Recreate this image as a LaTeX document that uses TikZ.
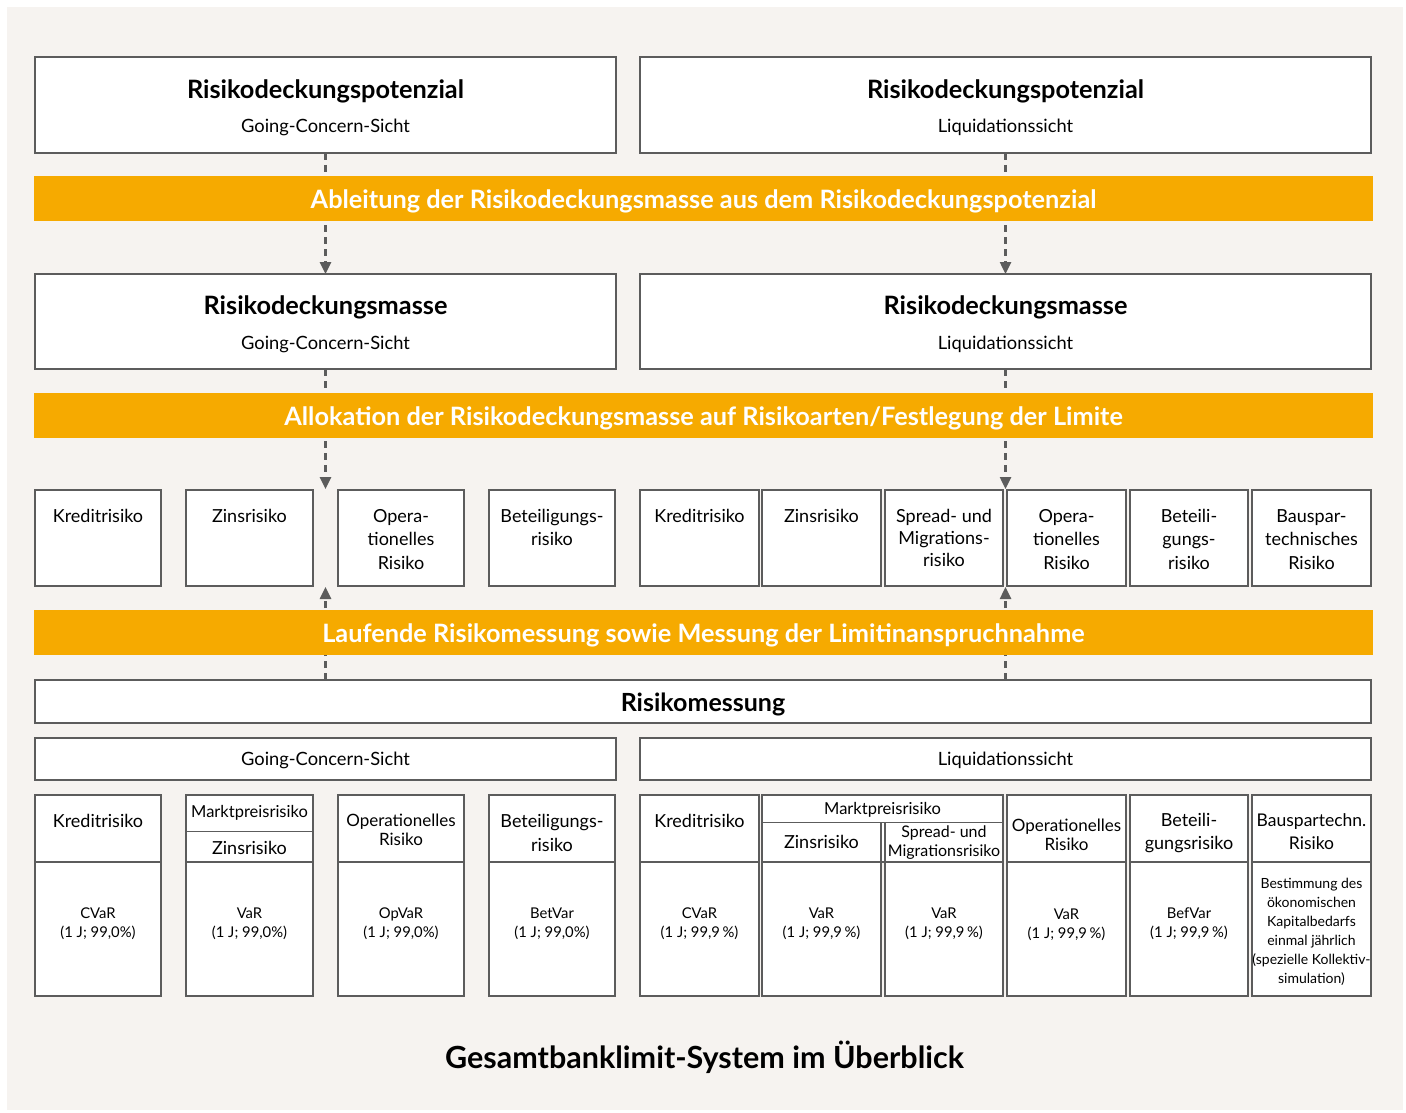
\documentclass[tikz,border=0pt]{standalone}
\usepackage{fontspec}
\setmainfont{Lato}
\usetikzlibrary{arrows.meta}
\definecolor{bg}{HTML}{F6F3F0}
\definecolor{bord}{HTML}{5C5C5C}
\definecolor{orng}{HTML}{F6AA00}
\newcommand\fBig{\fontsize{25.3}{30}\selectfont\bfseries}
\newcommand\fSub{\fontsize{18.3}{22}\selectfont}
\newcommand\fBar{\fontsize{25.3}{30}\selectfont\bfseries}
\newcommand\fMid{\fontsize{18}{23.5}\selectfont}
\newcommand\fMidT{\fontsize{18}{19}\selectfont}
\newcommand\fOp{\fontsize{17}{19}\selectfont}
\newcommand\fSm{\fontsize{14.8}{19}\selectfont}
\newcommand\fTitle{\fontsize{30.5}{36}\selectfont\bfseries}
\newcommand\mybox[6][]{%
  \pgfmathsetmacro\bw{#5-#3}\pgfmathsetmacro\bh{#6-#4}%
  \node[box,anchor=north west,minimum width=\bw pt,minimum height=\bh pt,#1] (#2) at (#3,#4) {};}
\begin{document}
\begin{tikzpicture}[x=1pt,y=-1pt,
  box/.style={draw=bord,line width=2.5pt,fill=white,inner sep=0pt,outer sep=0pt},
  barbox/.style={fill=orng,draw=none,inner sep=0pt,outer sep=0pt},
  conn/.style={draw=bord,line width=2.5pt,dash pattern=on 7pt off 5pt},
  tip/.style={-{Triangle[width=11pt,length=12pt]}},
  txt/.style={inner sep=0pt,align=center,text=black},
  bartxt/.style={inner sep=0pt,text=white,font=\fBar},
  thin/.style={draw=bord,line width=1pt}
]
\useasboundingbox (0,0) rectangle (1406,1113);
\fill[white] (0,0) rectangle (1406,1113);
\fill[bg] (7,7) rectangle (1403,1110);

% top boxes
\mybox{TL}{35}{57}{616}{153}
\mybox{TR}{640}{57}{1371}{153}
\node[txt,font=\fBig] (tl1) at (325.5,91) {Risikodeckungspotenzial};
\node[txt,font=\fSub] (tl2) at (325.5,127) {Going-Concern-Sicht};
\node[txt,font=\fBig] (tr1) at (1005.5,91) {Risikodeckungspotenzial};
\node[txt,font=\fSub] (tr2) at (1005.5,127) {Liquidationssicht};

% second boxes
\mybox{ML}{35}{274}{616}{369}
\mybox{MR}{640}{274}{1371}{369}
\node[txt,font=\fBig] (ml1) at (325.5,307) {Risikodeckungsmasse};
\node[txt,font=\fSub] (ml2) at (325.5,344) {Going-Concern-Sicht};
\node[txt,font=\fBig] (mr1) at (1005.5,307) {Risikodeckungsmasse};
\node[txt,font=\fSub] (mr2) at (1005.5,344) {Liquidationssicht};

% row 3
\mybox{L3a}{35}{490}{161}{586}
\mybox{L3b}{186}{490}{313}{586}
\mybox{L3c}{338}{490}{464}{586}
\mybox{L3d}{489}{490}{615}{586}
\mybox{R3a}{640}{490}{759}{586}
\mybox{R3b}{762}{490}{881}{586}
\mybox{R3c}{885}{490}{1003}{586}
\mybox{R3d}{1007}{490}{1126}{586}
\mybox{R3e}{1130}{490}{1248}{586}
\mybox{R3f}{1252}{490}{1371}{586}
\node[txt,font=\fMid,anchor=north] (l3at) at (98,509) {Kreditrisiko};
\node[txt,font=\fMid,anchor=north] (l3bt) at (249.5,509) {Zinsrisiko};
\node[txt,font=\fMid,anchor=north] (l3ct) at (401,509) {Opera-\\tionelles\\Risiko};
\node[txt,font=\fMid,anchor=north] (l3dt) at (552,509) {Beteiligungs-\\risiko};
\node[txt,font=\fMid,anchor=north] (r3at) at (699.5,509) {Kreditrisiko};
\node[txt,font=\fMid,anchor=north] (r3bt) at (821.5,509) {Zinsrisiko};
\node[txt,font=\fMid,anchor=north,execute at begin node={\baselineskip=22pt}] (r3ct) at (944,509) {Spread- und\\Migrations-\\risiko};
\node[txt,font=\fMid,anchor=north] (r3dt) at (1066.5,509) {Opera-\\tionelles\\Risiko};
\node[txt,font=\fMid,anchor=north] (r3et) at (1189,509) {Beteili-\\gungs-\\risiko};
\node[txt,font=\fMid,anchor=north] (r3ft) at (1311.5,509) {Bauspar-\\technisches\\Risiko};

% Risikomessung
\mybox{RM}{35}{680}{1371}{723}
\node[txt,font=\fontsize{25}{30}\selectfont\bfseries] (rmt) at (703,704) {Risikomessung};
\mybox{GC}{35}{738}{616}{780}
\mybox{LQ}{640}{738}{1371}{780}
\node[txt,font=\fSub] (gct) at (325.5,760.5) {Going-Concern-Sicht};
\node[txt,font=\fSub] (lqt) at (1005.5,760.5) {Liquidationssicht};

% row 4 left
\mybox{L4a}{35}{795}{161}{862}
\mybox{L4b}{186}{795}{313}{862}
\mybox{L4c}{338}{795}{464}{862}
\mybox{L4d}{489}{795}{615}{862}
\mybox{L5a}{35}{862}{161}{996}
\mybox{L5b}{186}{862}{313}{996}
\mybox{L5c}{338}{862}{464}{996}
\mybox{L5d}{489}{862}{615}{996}
\draw[thin] (L4b.west |- 0,831) -- (L4b.east |- 0,831);
\node[txt,font=\fMidT] (l4at) at (98,820.5) {Kreditrisiko};
\node[txt,font=\fontsize{16.5}{19}\selectfont] (l4bt1) at (249.5,813) {Marktpreisrisiko};
\node[txt,font=\fMidT] (l4bt2) at (249.5,848) {Zinsrisiko};
\node[txt,font=\fOp] (l4ct) at (401,830) {Operationelles\\Risiko};
\node[txt,font=\fMid] (l4dt) at (552,833) {Beteiligungs-\\risiko};
\node[txt,font=\fSm] (l5at) at (98,923.5) {CVaR\\(1 J; 99,0\%)};
\node[txt,font=\fSm] (l5bt) at (249.5,923.5) {VaR\\(1 J; 99,0\%)};
\node[txt,font=\fSm] (l5ct) at (401,923.5) {OpVaR\\(1 J; 99,0\%)};
\node[txt,font=\fSm] (l5dt) at (552,923.5) {BetVar\\(1 J; 99,0\%)};

% row 4 right
\mybox{R4a}{640}{795}{759}{862}
\mybox{R4b}{762}{795}{1003}{862}
\mybox{R4d}{1007}{795}{1126}{862}
\mybox{R4e}{1130}{795}{1248}{862}
\mybox{R4f}{1252}{795}{1371}{862}
\draw[thin] (R4b.west |- 0,822) -- (R4b.east |- 0,822);
\draw[draw=bord,line width=2.5pt] (881,822) -- (881,862) (885,822) -- (885,862);
\mybox{R5a}{640}{862}{759}{996}
\mybox{R5b}{762}{862}{881}{996}
\mybox{R5c}{885}{862}{1003}{996}
\mybox{R5d}{1007}{862}{1126}{996}
\mybox{R5e}{1130}{862}{1248}{996}
\mybox{R5f}{1252}{862}{1371}{996}
\node[txt,font=\fMidT] (r4at) at (699.5,820.5) {Kreditrisiko};
\node[txt,font=\fontsize{16.5}{19}\selectfont] (r4bt) at (882.5,810) {Marktpreisrisiko};
\node[txt,font=\fMidT] (r4bt2) at (821.5,841.5) {Zinsrisiko};
\node[txt,font=\fontsize{16}{19}\selectfont] (r4ct) at (944,842.5) {Spread- und\\Migrationsrisiko};
\node[txt,font=\fOp] (r4dt) at (1066.5,835) {Operationelles\\Risiko};
\node[txt,font=\fontsize{18}{23}\selectfont] (r4et) at (1189,833) {Beteili-\\gungsrisiko};
\node[txt,font=\fontsize{17.5}{23}\selectfont] (r4ft) at (1311.5,832) {Bauspartechn.\\Risiko};
\node[txt,font=\fSm] (r5at) at (699.5,923.5) {CVaR\\(1 J; 99,9\,\%)};
\node[txt,font=\fSm] (r5bt) at (821.5,923.5) {VaR\\(1 J; 99,9\,\%)};
\node[txt,font=\fSm] (r5ct) at (944,923.5) {VaR\\(1 J; 99,9\,\%)};
\node[txt,font=\fSm] (r5dt) at (1066.5,924.5) {VaR\\(1 J; 99,9\,\%)};
\node[txt,font=\fSm] (r5et) at (1189,923.5) {BefVar\\(1 J; 99,9\,\%)};
\node[txt,font=\fontsize{14}{19}\selectfont] (r5ft) at (1311.5,932) {Bestimmung des\\ökonomischen\\Kapitalbedarfs\\einmal jährlich\\(spezielle Kollektiv-\\simulation)};

% connectors (drawn below the orange bars)
\coordinate (a3l) at (325.5,489);
\coordinate (a3r) at (1005.5,489);
\coordinate (u3l) at (325.5,587);
\coordinate (u3r) at (1005.5,587);
\draw[conn,tip] (TL.south) -- (ML.north);
\draw[conn,tip] (TR.south) -- (MR.north);
\draw[conn,tip] (ML.south) -- (a3l);
\draw[conn,tip] (MR.south) -- (a3r);
\draw[conn,tip] (RM.north -| u3l) -- (u3l);
\draw[conn,tip] (RM.north -| u3r) -- (u3r);

% orange bars
\mybox[barbox]{B1}{34}{176}{1373}{221}
\node[bartxt] (b1t) at (703.5,201) {Ableitung der Risikodeckungsmasse aus dem Risikodeckungspotenzial};
\mybox[barbox]{B2}{34}{393}{1373}{438}
\node[bartxt] (b2t) at (703.5,418) {Allokation der Risikodeckungsmasse auf Risikoarten/Festlegung der Limite};
\mybox[barbox]{B3}{34}{610}{1373}{655}
\node[bartxt] (b3t) at (703.5,635) {Laufende Risikomessung sowie Messung der Limitinanspruchnahme};

% title
\node[txt,font=\fTitle] (title) at (704.5,1057) {Gesamtbanklimit-System im Überblick};
\end{tikzpicture}
\end{document}
